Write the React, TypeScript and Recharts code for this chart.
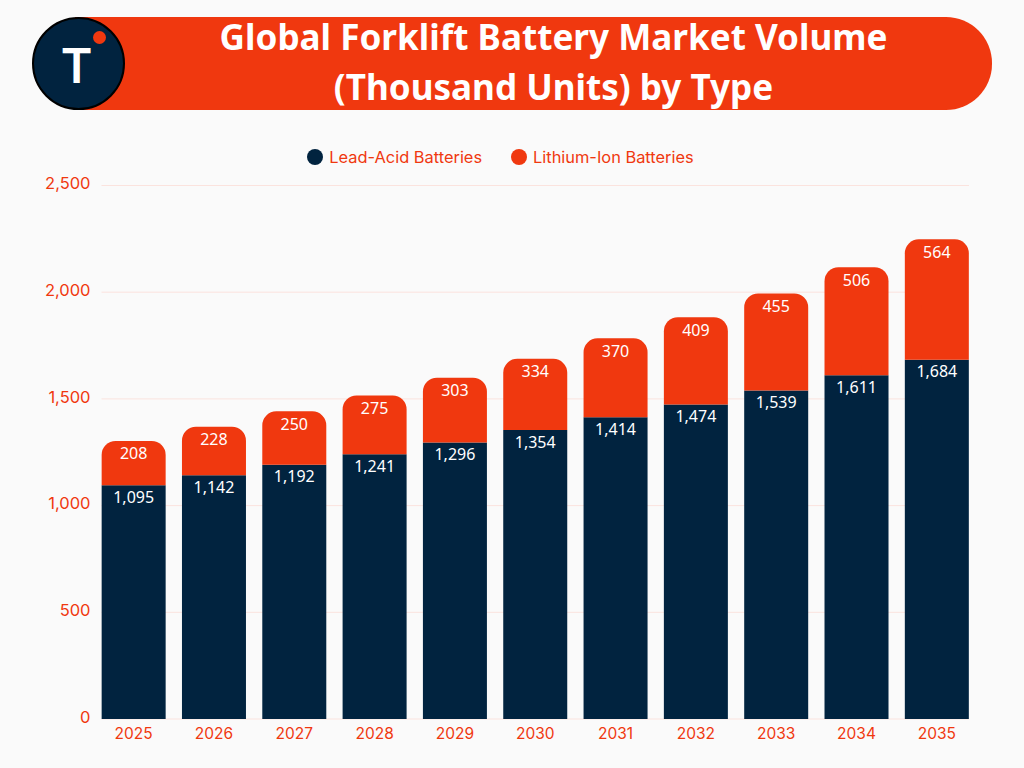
import React from "react";
import { BarChart, Bar, XAxis, YAxis, CartesianGrid, Legend, LabelList } from "recharts";

const years = ["2025","2026","2027","2028","2029","2030","2031","2032","2033","2034","2035"];
const leadAcid = [1095,1142,1192,1241,1296,1354,1414,1474,1539,1611,1684];
const lithiumIon = [208,228,250,275,303,334,370,409,455,506,564];
const yTicks = [0,500,1000,1500,2000,2500];
const rows = years.map((year,i)=>({year,lead:leadAcid[i],lithium:lithiumIon[i]}));

const NAVY="#01233f"; const RED="#f0380f"; const BG="#fafafa";
const tickFont="Inter, 'Open Sans', sans-serif";
const fmt=(v:any)=>Number(v).toLocaleString("en-US");

const LegendContent=(props:any)=>(
  <div style={{display:"flex",justifyContent:"center",alignItems:"center",gap:29,height:20,fontFamily:tickFont,fontSize:16.4,color:RED,whiteSpace:"nowrap"}}>
    {(props.payload||[]).map((p:any)=>(
      <div key={p.value} style={{display:"flex",alignItems:"center",gap:6}}>
        <span style={{width:16,height:16,borderRadius:"50%",background:p.color,display:"inline-block"}}/>
        <span>{p.value}</span>
      </div>
    ))}
  </div>
);

export default function App(){
  return (
    <div style={{position:"absolute",left:0,top:0,width:1024,height:768,background:BG,overflow:"hidden"}}>
      <div style={{position:"absolute",left:75,top:17,width:917,height:93,background:RED,borderRadius:"0 46px 46px 0"}}/>
      <div style={{position:"absolute",left:32,top:17,width:89,height:89,background:NAVY,border:"2px solid #000",borderRadius:"50%"}}/>
      <div style={{position:"absolute",left:93,top:31,width:13,height:13,background:RED,borderRadius:"50%"}}/>
      <div style={{position:"absolute",left:32,top:17,width:93,height:93,color:"#fff",fontFamily:"Inter,sans-serif",fontWeight:600,fontSize:48,lineHeight:"98px",textAlign:"center",paddingRight:4,boxSizing:"border-box"}}>T</div>
      <div style={{position:"absolute",left:125,top:11,width:857,textAlign:"center",color:"#fff",fontFamily:"'Noto Sans',sans-serif",fontWeight:700,fontSize:35.1,lineHeight:"50px",whiteSpace:"nowrap"}}>
        Global Forklift Battery Market Volume<br/>(Thousand Units) by Type
      </div>
      <div style={{position:"absolute",left:0,top:0}}>
        <BarChart width={1024} height={768} data={rows} margin={{top:165.5,right:55,bottom:0,left:0}} barCategoryGap={8.15}>
          <CartesianGrid horizontal vertical={false} stroke="#fbe3de" strokeWidth={1}/>
          <XAxis dataKey="year" height={49} axisLine={false} tickLine={false} padding={{left:-8,right:-8}} interval={0} tickMargin={3}
            tick={{fill:RED,fontSize:15.5,fontFamily:tickFont}}/>
          <YAxis width={101.5} domain={[0,2500]} ticks={yTicks} axisLine={false} tickLine={false} tickFormatter={fmt} tickMargin={5}
            tick={{fill:RED,fontSize:16.5,fontFamily:tickFont,dy:-2}}/>
          <Legend verticalAlign="top" height={20} content={<LegendContent/>}
            wrapperStyle={{position:"absolute",top:147,left:0,width:1001}}/>
          <Bar dataKey="lead" name="Lead-Acid Batteries" stackId="a" fill={NAVY} isAnimationActive={false}>
            <LabelList dataKey="lead" position="insideTop" offset={6.5} fill="#fff" fontSize={16} fontFamily="'Noto Sans',sans-serif" formatter={fmt}/>
          </Bar>
          <Bar dataKey="lithium" name="Lithium-Ion Batteries" stackId="a" fill={RED} radius={[14,14,0,0]} isAnimationActive={false}>
            <LabelList dataKey="lithium" position="insideTop" offset={7} fill="#fff" fontSize={16} fontFamily="'Noto Sans',sans-serif" formatter={fmt}/>
          </Bar>
        </BarChart>
      </div>
    </div>
  );
}
